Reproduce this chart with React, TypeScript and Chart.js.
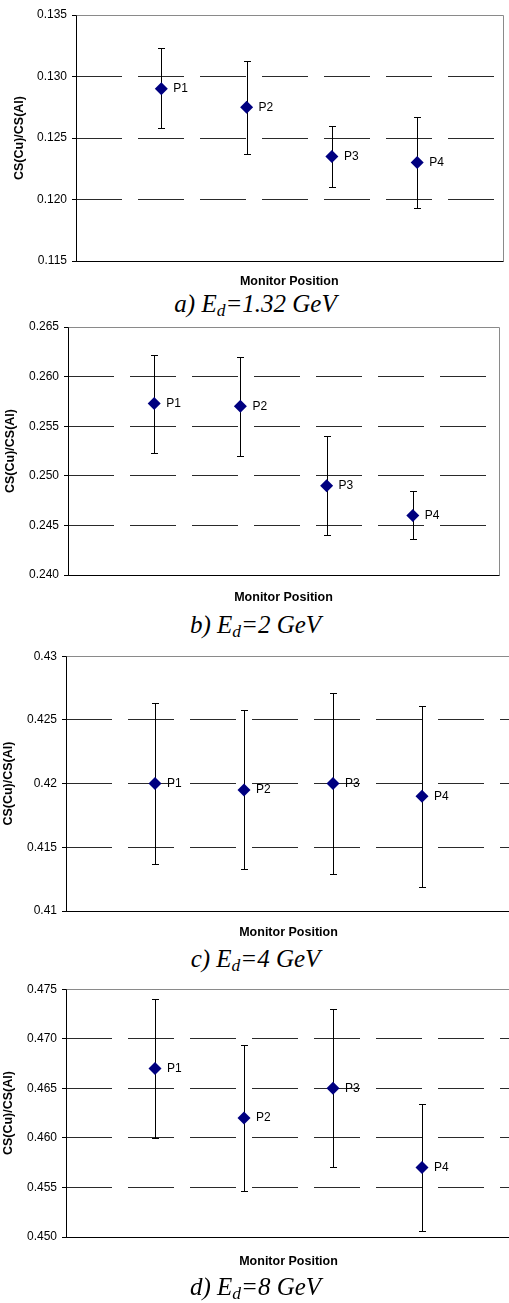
import React, { useEffect, useRef } from 'react';
import { Chart, registerables } from 'chart.js';

Chart.register(...registerables);

// ---------- data ----------
const positionLabels = ['P1', 'P2', 'P3', 'P4'];
const positionSlots = [1, 2, 3, 4];

const aValues = [0.129, 0.1275, 0.1235, 0.123];
const aUpper = [0.1323, 0.1313, 0.126, 0.1267];
const aLower = [0.1258, 0.1237, 0.121, 0.1193];
const aTickLabels = ['0.115', '0.120', '0.125', '0.130', '0.135'];

const bValues = [0.2573, 0.257, 0.249, 0.246];
const bUpper = [0.2622, 0.262, 0.254, 0.2485];
const bLower = [0.2523, 0.252, 0.244, 0.2436];
const bTickLabels = ['0.240', '0.245', '0.250', '0.255', '0.260', '0.265'];

const cValues = [0.42, 0.4195, 0.42, 0.419];
const cUpper = [0.4263, 0.4258, 0.4271, 0.4261];
const cLower = [0.4137, 0.4133, 0.4129, 0.4119];
const cTickLabels = ['0.41', '0.415', '0.42', '0.425', '0.43'];

const dValues = [0.467, 0.462, 0.465, 0.457];
const dUpper = [0.474, 0.4694, 0.473, 0.4634];
const dLower = [0.46, 0.4546, 0.4571, 0.4506];
const dTickLabels = ['0.450', '0.455', '0.460', '0.465', '0.470', '0.475'];

const captionLetters = ['a)', 'b)', 'c)', 'd)'];
const beamEnergies = ['1.32', '2', '4', '8'];
const xAxisTitle = 'Monitor Position';
const yAxisTitle = 'CS(Cu)/CS(Al)';
const tickStep = 0.005;

const panelData = [
  { values: aValues, upper: aUpper, lower: aLower, ticks: aTickLabels },
  { values: bValues, upper: bUpper, lower: bLower, ticks: bTickLabels },
  { values: cValues, upper: cUpper, lower: cLower, ticks: cTickLabels },
  { values: dValues, upper: dUpper, lower: dLower, ticks: dTickLabels },
];

// ---------- layout ----------
const frames = [
  { top: 0, height: 290, width: 509, left: 76, right: 504, areaTop: 15, areaBottom: 261, yTitleX: 20, xTitleY: 282, captionTop: 291 },
  { top: 312, height: 298, width: 509, left: 68, right: 499, areaTop: 327, areaBottom: 575, yTitleX: 10.5, xTitleY: 598, captionTop: 612 },
  { top: 644, height: 301, width: 520, left: 66, right: 511, areaTop: 656, areaBottom: 911, yTitleX: 8.3, xTitleY: 933, captionTop: 946 },
  { top: 977, height: 297, width: 520, left: 66, right: 511, areaTop: 989, areaBottom: 1237, yTitleX: 8.3, xTitleY: 1262, captionTop: 1274 },
];

const SANS = '"Liberation Sans", Arial, Helvetica, sans-serif';
const SERIF = '"Liberation Serif", "Times New Roman", Times, serif';
const TITLE_SIZE = 12.5;

function makeOverlay(d: { values: number[]; upper: number[]; lower: number[] }) {
  const px = (v: number) => Math.round(v) + 0.5;
  return {
    id: 'overlay',
    beforeDatasetsDraw(chart: any) {
      const { ctx, chartArea: a, scales } = chart;
      const xs = scales.x;
      const ys = scales.y;
      ctx.save();
      ctx.lineWidth = 1;
      // light frame (top, right)
      ctx.strokeStyle = '#8a8a8a';
      ctx.beginPath();
      ctx.moveTo(px(a.left), px(a.top));
      ctx.lineTo(px(a.right), px(a.top));
      ctx.lineTo(px(a.right), px(a.bottom));
      ctx.stroke();
      // axes (left, bottom)
      ctx.strokeStyle = '#000';
      ctx.beginPath();
      ctx.moveTo(px(a.left), px(a.top));
      ctx.lineTo(px(a.left), px(a.bottom));
      ctx.lineTo(px(a.right), px(a.bottom));
      ctx.stroke();
      // error bars
      ctx.strokeStyle = '#000';
      for (let i = 0; i < positionSlots.length; i++) {
        const x = px(xs.getPixelForValue(positionSlots[i]));
        const yt = px(ys.getPixelForValue(d.upper[i]));
        const yb = px(ys.getPixelForValue(d.lower[i]));
        ctx.beginPath();
        ctx.moveTo(x, yt);
        ctx.lineTo(x, yb);
        ctx.moveTo(x - 3.5, yt);
        ctx.lineTo(x + 3.5, yt);
        ctx.moveTo(x - 3.5, yb);
        ctx.lineTo(x + 3.5, yb);
        ctx.stroke();
      }
      ctx.restore();
    },
    afterDatasetsDraw(chart: any) {
      const { ctx, scales } = chart;
      ctx.save();
      ctx.fillStyle = '#000';
      ctx.font = `12px ${SANS}`;
      ctx.textAlign = 'left';
      ctx.textBaseline = 'middle';
      for (let i = 0; i < positionSlots.length; i++) {
        const x = scales.x.getPixelForValue(positionSlots[i]);
        const y = scales.y.getPixelForValue(d.values[i]);
        ctx.fillText(positionLabels[i], x + 12, y);
      }
      ctx.restore();
    },
  };
}

function Panel({ idx }: { idx: number }) {
  const ref = useRef<HTMLCanvasElement>(null);
  const f = frames[idx];
  useEffect(() => {
    const d = panelData[idx];
    const yMin = parseFloat(d.ticks[0]);
    const yMax = parseFloat(d.ticks[d.ticks.length - 1]);
    const lh = TITLE_SIZE * 1.2;
    const chart = new Chart(ref.current as HTMLCanvasElement, {
      type: 'scatter',
      data: {
        datasets: [
          {
            data: positionSlots.map((x, i) => ({ x, y: d.values[i] })),
            pointStyle: 'rectRot',
            pointRadius: 6.5,
            pointHoverRadius: 6.5,
            backgroundColor: '#000080',
            borderColor: '#000080',
            borderWidth: 0,
          },
        ],
      },
      options: {
        responsive: false,
        animation: false,
        devicePixelRatio: 1,
        events: [],
        layout: {
          padding: { left: 0, top: f.areaTop - f.top, right: f.width - f.right, bottom: 0 },
        },
        plugins: { legend: { display: false }, tooltip: { enabled: false } },
        scales: {
          x: {
            type: 'linear',
            min: 0,
            max: 5,
            ticks: { display: false },
            grid: { display: false },
            border: { display: false },
            title: {
              display: true,
              text: xAxisTitle,
              color: '#000',
              font: { family: SANS, size: TITLE_SIZE, weight: 'bold' },
              padding: { top: 0, bottom: f.top + f.height - f.xTitleY - lh / 2 },
            },
            afterFit: (s: any) => {
              s.height = f.top + f.height - f.areaBottom;
            },
          },
          y: {
            type: 'linear',
            min: yMin,
            max: yMax,
            ticks: {
              stepSize: tickStep,
              color: '#000',
              padding: 5,
              font: { family: SANS, size: 12 },
              callback: (_v: any, i: number) => d.ticks[i],
            },
            grid: { color: '#2a2a2a', lineWidth: 1, drawTicks: true, tickLength: 4, tickColor: '#000' },
            border: { display: false, dash: [46, 16] },
            title: {
              display: true,
              text: yAxisTitle,
              color: '#000',
              font: { family: SANS, size: TITLE_SIZE, weight: 'bold' },
              padding: { top: f.yTitleX - lh / 2, bottom: 0 },
            },
            afterFit: (s: any) => {
              s.width = f.left;
            },
          },
        },
      } as any,
      plugins: [makeOverlay(d) as any],
    });
    return () => chart.destroy();
  }, [idx]);

  return (
    <>
      <canvas
        ref={ref}
        width={f.width}
        height={f.height}
        style={{ position: 'absolute', left: 0, top: f.top, width: f.width, height: f.height }}
      />
      <div
        style={{
          position: 'absolute',
          left: 0,
          width: 511,
          top: f.captionTop,
          textAlign: 'center',
          fontFamily: SERIF,
          fontStyle: 'italic',
          fontSize: 25,
          lineHeight: '25px',
          color: '#000',
          whiteSpace: 'nowrap',
        }}
      >
        {captionLetters[idx]} E
        <span style={{ fontSize: '0.7em', verticalAlign: '-0.22em' }}>d</span>={beamEnergies[idx]} GeV
      </div>
    </>
  );
}

export default function App() {
  return (
    <div
      style={{
        position: 'absolute',
        left: 0,
        top: 0,
        width: 509,
        height: 1303,
        overflow: 'hidden',
        background: '#fff',
      }}
    >
      {frames.map((_, i) => (
        <Panel key={i} idx={i} />
      ))}
    </div>
  );
}
